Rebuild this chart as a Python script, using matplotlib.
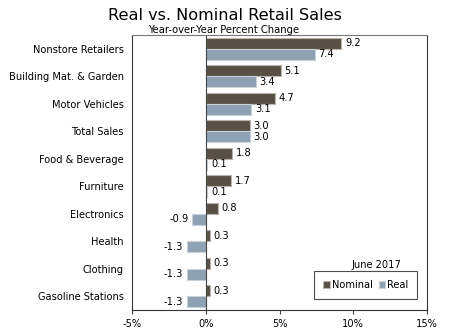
import numpy as np
import matplotlib
matplotlib.use('Agg')
import matplotlib.pyplot as plt
from matplotlib.ticker import FuncFormatter

categories = ['Nonstore Retailers', 'Building Mat. & Garden', 'Motor Vehicles',
              'Total Sales', 'Food & Beverage', 'Furniture', 'Electronics',
              'Health', 'Clothing', 'Gasoline Stations']
nominal = [9.2, 5.1, 4.7, 3.0, 1.8, 1.7, 0.8, 0.3, 0.3, 0.3]
real = [7.4, 3.4, 3.1, 3.0, 0.1, 0.1, -0.9, -1.3, -1.3, -1.3]

NOM_COLOR = '#585045'
REAL_COLOR = '#8ea2b3'
FS = 7.1

fig = plt.figure(figsize=(4.5, 3.35), dpi=100)
ax = fig.add_axes([132/450, 1 - 310/335, 295/450, 275/335])

y = np.arange(len(categories))
h = 0.4
ax.barh(y - h/2, nominal, height=h, color=NOM_COLOR, edgecolor='#b8b4ae', linewidth=0.8, label='Nominal')
ax.barh(y + h/2, real, height=h, color=REAL_COLOR, edgecolor='#c8d0d8', linewidth=0.8, label='Real')

# value labels next to each bar
for i in range(len(categories)):
    for val, off in ((nominal[i], -h/2), (real[i], h/2)):
        if val >= 0:
            ax.text(val + 0.25, i + off, f'{val:.1f}', va='center', ha='left', fontsize=FS)
        else:
            ax.text(val - 0.25, i + off, f'{val:.1f}', va='center', ha='right', fontsize=FS)

ax.axvline(0, color='#444444', linewidth=0.8)
ax.set_xlim(-5, 15)
ax.set_ylim(len(categories) - 0.5, -0.5)
ax.set_xticks([-5, 0, 5, 10, 15])
ax.xaxis.set_major_formatter(FuncFormatter(lambda v, p: f'{v:.0f}%'))
ax.set_yticks(y)
ax.set_yticklabels(categories, fontsize=FS)
ax.tick_params(axis='y', length=0, pad=6)
ax.tick_params(axis='x', labelsize=FS, length=3, direction='out', color='#444444')
for s in ['left', 'right', 'bottom']:
    ax.spines[s].set_color('#333333')
ax.spines['top'].set_color('#777777')

leg = ax.legend(loc='lower right', bbox_to_anchor=(0.983, 0.022), ncol=2, fontsize=FS,
                frameon=True, fancybox=False, handlelength=0.7, handleheight=0.7,
                handletextpad=0.15, columnspacing=0.6, borderpad=0.9)
leg.get_frame().set_edgecolor('#222222')
leg.get_frame().set_linewidth(0.8)
ax.text(0.83, 0.165, 'June 2017', transform=ax.transAxes, ha='center', va='center', fontsize=FS)

fig.text(0.5, 0.955, 'Real vs. Nominal Retail Sales', ha='center', va='center', fontsize=11.6)
fig.text(0.497, 0.91, 'Year-over-Year Percent Change', ha='center', va='center', fontsize=7.2)

fig.savefig('out.png', dpi=100)
